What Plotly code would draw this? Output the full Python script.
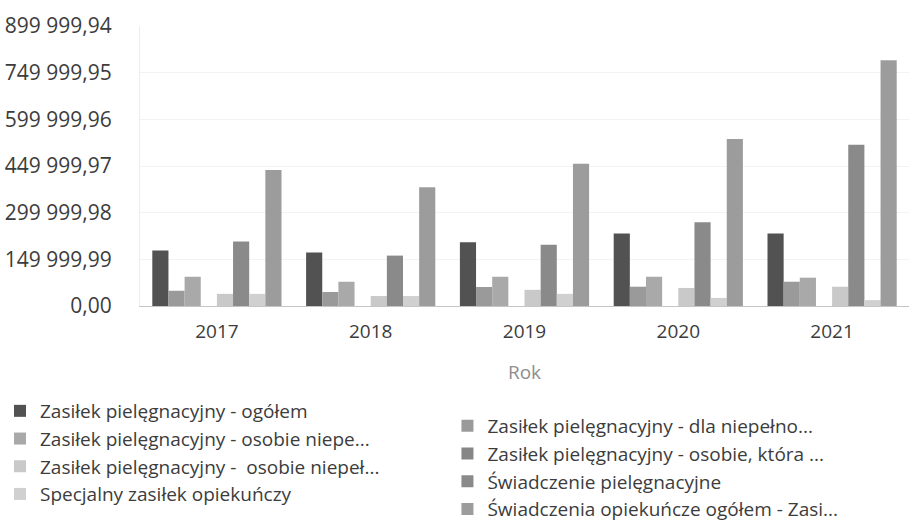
import plotly.graph_objects as go

# Years on the category axis
years = ["2017", "2018", "2019", "2020", "2021"]

# Series names (as shown in the legend)
names = [
    "Zasiłek pielęgnacyjny - ogółem",
    "Zasiłek pielęgnacyjny - dla niepełno...",
    "Zasiłek pielęgnacyjny - osobie niepe...",
    "Zasiłek pielęgnacyjny - osobie, która ...",
    "Zasiłek pielęgnacyjny -  osobie niepeł...",
    "Świadczenie pielęgnacyjne",
    "Specjalny zasiłek opiekuńczy",
    "Świadczenia opiekuńcze ogółem - Zasi...",
]

# Values per series (PLN)
zp_ogolem = [178000, 172000, 205000, 233000, 233000]
zp_dziecko = [49000, 45000, 61000, 62000, 78000]
zp_osobie_niepe = [94000, 78000, 94000, 94000, 91000]
zp_75_lat = [0, 0, 0, 0, 0]
zp_osobie_niepel = [39000, 32000, 52000, 58000, 62000]
swiadczenie_piel = [207000, 162000, 197000, 269000, 518000]
specjalny = [39000, 32000, 39000, 26000, 19000]
swiadczenia_ogolem = [437000, 382000, 457000, 537000, 790000]

series = [zp_ogolem, zp_dziecko, zp_osobie_niepe, zp_75_lat,
          zp_osobie_niepel, swiadczenie_piel, specjalny, swiadczenia_ogolem]

colors = ["#525252", "#9a9a9a", "#a9a9a9", "#868686",
          "#c9c9c9", "#8a8a8a", "#d0d0d0", "#9c9c9c"]

# Y axis ticks
y_tickvals = [0, 149999.99, 299999.98, 449999.97, 599999.96, 749999.95, 899999.94]
y_ticktext = ["0,00", "149 999,99", "299 999,98", "449 999,97",
              "599 999,96", "749 999,95", "899 999,94"]

fig = go.Figure()
for i, (name, vals, col) in enumerate(zip(names, series, colors)):
    fig.add_trace(go.Bar(
        x=years, y=vals, name=name,
        marker=dict(color=col, line=dict(width=0)),
        legend="legend" if i % 2 == 0 else "legend2",
        hoverinfo="skip",
    ))

font_family = "Open Sans, Noto Sans, sans-serif"
legend_font = dict(size=19, color="#3c3c3c")

fig.update_layout(
    width=911, height=528,
    margin=dict(l=140, r=2, t=26, b=222),
    paper_bgcolor="white",
    plot_bgcolor="white",
    barmode="group",
    bargap=0.16,
    bargroupgap=0,
    font=dict(family=font_family, color="#3c3c3c"),
    xaxis=dict(
        type="category", automargin=False,
        showline=True, linecolor="#c4c4c4", linewidth=1,
        ticks="", ticklabelstandoff=8,
        tickfont=dict(size=19, color="#3c3c3c"),
        title=dict(text="Rok", font=dict(size=19, color="#8e8e8e"), standoff=22),
        showgrid=False,
    ),
    yaxis=dict(
        range=[0, 899999.94], automargin=False,
        tickvals=y_tickvals, ticktext=y_ticktext,
        tickfont=dict(size=21, color="#3c3c3c"),
        ticklabelstandoff=23,
        showgrid=True, gridcolor="#f3f3f3", gridwidth=1,
        zeroline=False, showline=True, linecolor="#ededed", linewidth=1,
    ),
    legend=dict(
        orientation="v", x=-0.1826, xanchor="left",
        yref="container", y=0.2576, yanchor="top",
        font=legend_font, bgcolor="rgba(0,0,0,0)",
        itemclick=False, itemdoubleclick=False,
    ),
    legend2=dict(
        orientation="v", x=0.3998, xanchor="left",
        yref="container", y=0.2292, yanchor="top",
        font=legend_font, bgcolor="rgba(0,0,0,0)",
        itemclick=False, itemdoubleclick=False,
    ),
    showlegend=True,
)

fig.write_html("out.html", config={"displayModeBar": False})
